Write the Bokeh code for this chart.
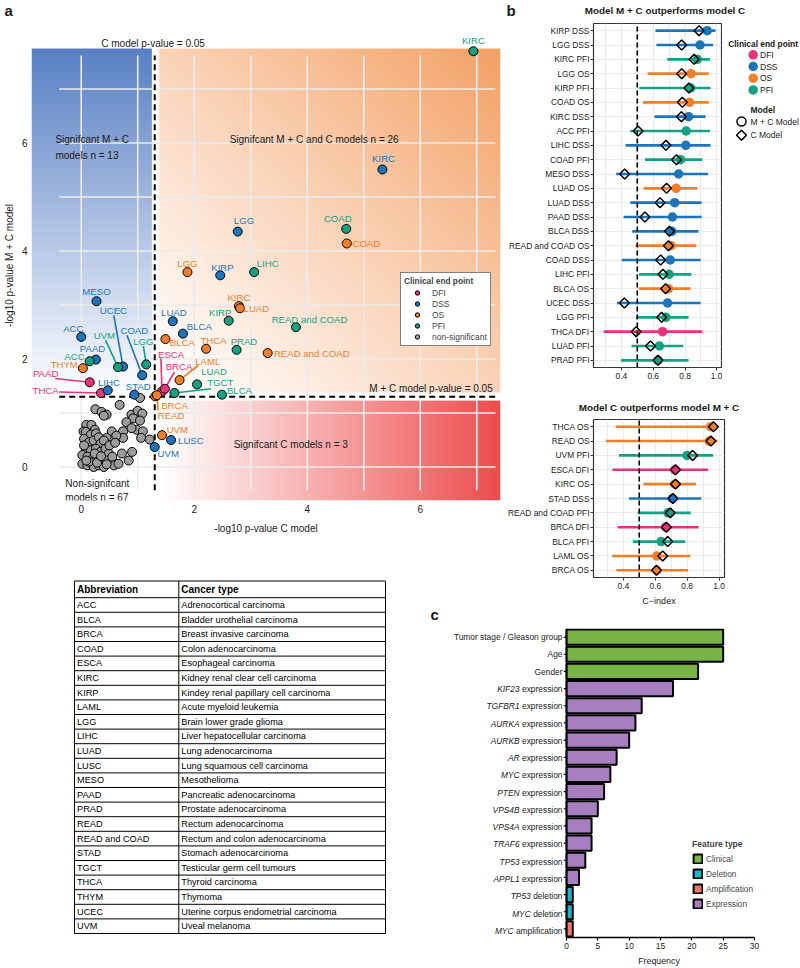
import numpy as np
from bokeh.plotting import figure
from bokeh.models import (ColumnDataSource, Label, LabelSet, Legend, LegendItem, FixedTicker,
                          FactorRange, Range1d, GridBox, PrintfTickFormatter, Title)
from bokeh.core.properties import value
from bokeh.embed import file_html
from bokeh.resources import INLINE

FONT = "Liberation Sans"
INK = "#1A1A1A"

# ---------------------------------------------------------------- panel a data
end_points = ["DFI", "DSS", "OS", "PFI"]
end_colors = ["#E8337B", "#1C74BA", "#F07E2B", "#15A084"]
ns_color = "#9C9C9C"

a_cancer = ["KIRC", "KIRC", "COAD", "COAD", "LGG", "LGG", "KIRP", "LIHC", "MESO", "UCEC",
            "ACC", "PAAD", "UVM", "COAD", "LGG", "ACC", "THYM", "PAAD", "THCA", "LIHC",
            "STAD", "LUAD", "BLCA", "BLCA", "THCA", "PRAD", "KIRC", "LUAD", "KIRP", "READ and COAD",
            "READ and COAD", "LAML", "LUAD", "TGCT", "BLCA", "ESCA", "BRCA", "BRCA", "READ", "UVM",
            "LUSC", "UVM"]
a_end = ["PFI", "DSS", "PFI", "OS", "DSS", "OS", "DSS", "PFI", "DSS", "DSS",
         "DSS", "DSS", "PFI", "DSS", "PFI", "PFI", "OS", "DFI", "DFI", "DSS",
         "DSS", "DSS", "DSS", "OS", "OS", "PFI", "OS", "OS", "PFI", "PFI",
         "OS", "OS", "PFI", "PFI", "PFI", "DFI", "DFI", "OS", "OS", "OS",
         "DSS", "DSS"]
a_logp_c = [6.94, 5.33, 4.69, 4.70, 2.77, 1.88, 2.46, 3.06, 0.27, 0.74,
            0.00, 0.26, 0.65, 1.08, 1.15, 0.15, 0.03, 0.15, 0.35, 0.47,
            0.94, 1.62, 1.80, 1.49, 2.21, 2.75, 2.79, 2.81, 2.61, 3.80,
            3.30, 1.74, 2.05, 1.65, 2.49, 1.43, 1.48, 1.31, 1.34, 1.43,
            1.59, 1.30]
a_logp_mc = [7.70, 5.51, 4.41, 4.14, 4.36, 3.61, 3.55, 3.61, 3.07, 1.86,
             2.41, 1.99, 1.85, 1.70, 1.90, 1.96, 1.83, 1.57, 1.37, 1.42,
             1.34, 2.70, 2.47, 2.37, 2.19, 2.17, 2.98, 2.94, 2.71, 2.59,
             2.11, 1.61, 1.53, 1.37, 1.34, 1.40, 1.45, 1.31, 1.33, 0.59,
             0.50, 0.37]

# non-significant models (grey)
ns_x = [1.04, 0.68, 0.25, 0.36, 0.45, 0.40, 0.89, 1.00, 1.08, 0.92, 0.80, 1.04, 0.09, 0.18,
        0.74, 0.98, 0.89, 1.09, 0.54, 0.24, 0.04, 0.45, 0.74, 1.06, 1.21, 0.62,
        0.08, 0.17, 0.26, 0.05, 0.14, 0.22, 0.31, 0.34, 0.40,
        0.08, 0.17, 0.26, 0.34, 0.43, 0.49,
        0.02, 0.11, 0.20, 0.28, 0.37, 0.46, 0.55,
        0.02, 0.11, 0.22, 0.31, 0.40, 0.58, 0.66,
        0.72, 0.84, 0.90, 0.05, 0.50, 0.60, 0.14, 0.28, 0.45, 0.24, 0.09, 0.35]
ns_y = [1.28, 1.15, 1.07, 1.02, 0.97, 0.95, 0.97, 1.04, 0.99, 0.90, 0.83, 0.86, 0.78, 0.78,
        0.66, 0.69, 0.72, 0.66, 0.66, 0.69, 0.66, 0.54, 0.54, 0.54, 0.51, 0.58,
        0.65, 0.60, 0.62, 0.52, 0.46, 0.49, 0.55, 0.43, 0.49,
        0.34, 0.31, 0.34, 0.28, 0.34, 0.25,
        0.22, 0.19, 0.15, 0.17, 0.12, 0.12, 0.19,
        0.06, 0.03, 0.00, 0.03, 0.00, 0.03, 0.06,
        0.25, 0.12, 0.28, 0.40, 0.40, 0.45, 0.10, 0.08, 0.05, 0.25, 0.12, 0.20]

# label layout for panel a (text anchor positions, in axis units)
a_lab_x = [6.94, 5.35, 4.54, 4.80, 2.88, 1.88, 2.50, 3.30, 0.27, 0.57,
           -0.14, 0.20, 0.41, 0.94, 1.10, -0.12, -0.30, -0.63, -0.63, 0.49,
           1.01, 1.64, 2.09, 1.79, 2.34, 2.88, 2.79, 3.10, 2.46, 4.04,
           3.41, 2.24, 2.35, 2.46, 2.80, 1.59, 1.73, 1.65, 1.59, 1.70,
           1.94, 1.54]
a_lab_y = [7.90, 5.71, 4.61, 4.14, 4.57, 3.77, 3.70, 3.76, 3.25, 2.89,
           2.56, 2.19, 2.44, 2.53, 2.33, 2.04, 1.90, 1.73, 1.42, 1.57,
           1.49, 2.86, 2.61, 2.31, 2.35, 2.32, 3.14, 2.94, 2.87, 2.73,
           2.11, 1.96, 1.76, 1.57, 1.42, 2.09, 1.86, 1.14, 0.96, 0.69,
           0.49, 0.25]
a_lab_left = [3, 30]
a_lead = {9: (0.576, 2.81), 12: (0.43, 2.35), 13: (0.81, 2.44), 14: (1.10, 2.24),
          17: (-0.46, 1.64), 18: (-0.39, 1.39), 31: (2.07, 1.88), 33: (2.30, 1.45),
          35: (1.41, 2.01), 36: (1.65, 1.76), 37: (1.38, 1.24), 38: (1.36, 1.05)}

# ---------------------------------------------------------------- panel b data
bt_cancer = ["KIRP", "LGG", "KIRC", "LGG", "KIRP", "COAD", "KIRC", "ACC", "LIHC", "COAD", "MESO", "LUAD",
             "LUAD", "PAAD", "BLCA", "READ and COAD", "COAD", "LIHC", "BLCA", "UCEC", "LGG", "THCA", "LUAD", "PRAD"]
bt_end = ["DSS", "DSS", "PFI", "OS", "PFI", "OS", "DSS", "PFI", "DSS", "PFI", "DSS", "OS",
          "DSS", "DSS", "DSS", "OS", "DSS", "PFI", "OS", "DSS", "PFI", "DFI", "PFI", "PFI"]
bt_low = [0.614, 0.620, 0.688, 0.565, 0.513, 0.536, 0.608, 0.456, 0.427, 0.548, 0.367, 0.540,
          0.456, 0.414, 0.468, 0.488, 0.402, 0.511, 0.511, 0.373, 0.493, 0.289, 0.464, 0.398]
bt_high = [0.991, 0.976, 0.956, 0.949, 0.960, 0.949, 0.929, 0.956, 0.960, 0.908, 0.945, 0.877,
           0.904, 0.904, 0.884, 0.871, 0.898, 0.840, 0.834, 0.898, 0.822, 0.908, 0.789, 0.822]
bt_mc = [0.939, 0.894, 0.877, 0.838, 0.836, 0.828, 0.822, 0.807, 0.805, 0.772, 0.760, 0.744,
         0.735, 0.721, 0.717, 0.713, 0.707, 0.700, 0.696, 0.690, 0.680, 0.659, 0.639, 0.630]
bt_c = [0.888, 0.779, 0.857, 0.779, 0.824, 0.783, 0.777, 0.505, 0.680, 0.746, 0.421, 0.684,
        0.643, 0.548, 0.702, 0.696, 0.647, 0.661, 0.678, 0.419, 0.653, 0.493, 0.583, 0.630]

bb_cancer = ["THCA", "READ", "UVM", "ESCA", "KIRC", "STAD", "READ and COAD", "BRCA", "BLCA", "LAML", "BRCA"]
bb_end = ["OS", "OS", "PFI", "DFI", "OS", "DSS", "PFI", "DFI", "PFI", "OS", "OS"]
bb_low = [0.353, 0.291, 0.373, 0.332, 0.526, 0.435, 0.491, 0.365, 0.460, 0.330, 0.357]
bb_high = [0.995, 0.991, 0.962, 0.931, 0.855, 0.888, 0.822, 0.871, 0.787, 0.820, 0.806]
bb_mc = [0.947, 0.937, 0.799, 0.723, 0.723, 0.707, 0.680, 0.665, 0.637, 0.610, 0.610]
bb_c = [0.964, 0.949, 0.834, 0.727, 0.727, 0.711, 0.694, 0.670, 0.678, 0.647, 0.608]

# ---------------------------------------------------------------- panel c data
c_feature = ["Tumor stage / Gleason group", "Age", "Gender", "KIF23 expression", "TGFBR1 expression",
             "AURKA expression", "AURKB expression", "AR expression", "MYC expression", "PTEN expression",
             "VPS4B expression", "VPS4A expression", "TRAF6 expression", "TP53 expression",
             "APPL1 expression", "TP53 deletion", "MYC deletion", "MYC amplification"]
c_freq = [25, 25, 21, 17, 12, 11, 10, 8, 7, 6, 5, 4, 4, 3, 2, 1, 1, 1]
c_type = ["Clinical"] * 3 + ["Expression"] * 12 + ["Deletion", "Deletion", "Amplification"]
type_names = ["Clinical", "Deletion", "Amplification", "Expression"]
type_colors = ["#79B546", "#1DB5C1", "#F3766E", "#A77FC1"]

# ---------------------------------------------------------------- table data
tbl_abbr = ["ACC", "BLCA", "BRCA", "COAD", "ESCA", "KIRC", "KIRP", "LAML", "LGG", "LIHC", "LUAD", "LUSC",
            "MESO", "PAAD", "PRAD", "READ", "READ and COAD", "STAD", "TGCT", "THCA", "THYM", "UCEC", "UVM"]
tbl_name = ["Adrenocortical carcinoma", "Bladder urothelial carcinoma", "Breast invasive carcinoma",
            "Colon adenocarcinoma", "Esophageal carcinoma", "Kidney renal clear cell carcinoma",
            "Kindey renal papillary cell carcinoma", "Acute myeloid leukemia", "Brain lower grade glioma",
            "Liver hepatocellular carcinoma", "Lung adenocarcinoma", "Lung squamous cell carcinoma",
            "Mesothelioma", "Pancreatic adenocarcinoma", "Prostate adenocarcinoma", "Rectum adenocarcinoma",
            "Rectum and colon adenocarcinoma", "Stomach adenocarcinoma", "Testicular germ cell tumours",
            "Thyroid carcinoma", "Thymoma", "Uterine corpus endometrial carcinoma", "Uveal melanoma"]

END_COLOR = dict(zip(end_points, end_colors))
SIG = -np.log10(0.05)


def base_fig(**kw):
    p = figure(output_backend="svg", toolbar_location=None, title=None, **kw)
    p.background_fill_color = "white"
    p.border_fill_color = "white"
    if "frame_align" in p.properties():
        p.frame_align = False
    return p


def blank_fig(w, h):
    p = base_fig(width=w, height=h, x_range=Range1d(0, w), y_range=Range1d(h, 0),
                 min_border=0, x_axis_location=None, y_axis_location=None)
    p.outline_line_color = None
    p.xgrid.visible = False
    p.ygrid.visible = False
    return p


def style_axis(axis, size="8.4px"):
    axis.major_label_text_font = FONT
    axis.major_label_text_font_size = size
    axis.major_label_text_color = INK
    axis.axis_label_text_font = FONT
    axis.axis_label_text_font_style = "normal"
    axis.axis_label_text_color = INK


def add_label(p, x, y, txt, align="left", size="10px", bold=False, color=INK, baseline="middle"):
    p.add_layout(Label(x=x, y=y, text=txt, text_align=align, text_baseline=baseline,
                       text_font=FONT, text_font_size=size, text_color=color,
                       text_font_style="bold" if bold else "normal"))


def add_title(p, txt, align, offset, size, standoff):
    p.add_layout(Title(text=txt, align=align, offset=offset, text_font=FONT, text_font_size=size,
                       text_font_style="bold", text_color=INK, standoff=standoff), "above")


# ================================================================ panel a
# strip holding the panel letter
pta = blank_fig(505, 22)
add_label(pta, 4, 10, "a", size="15px", bold=True)

A_L, A_T, A_W, A_H = 29, 30, 471, 470     # frame in page pixels
A_XR = (-0.88, 7.42)
A_YR = (-0.62, 8.084)


def ax(px):
    return A_XR[0] + (px - A_L) * (A_XR[1] - A_XR[0]) / A_W


def ay(py):
    return A_YR[1] - (py - A_T) * (A_YR[1] - A_YR[0]) / A_H


pa = base_fig(width=505, height=543, x_range=Range1d(*A_XR), y_range=Range1d(*A_YR),
              min_border_left=A_L, min_border_right=5, min_border_top=8, min_border_bottom=65)
pa.outline_line_color = None
pa.xgrid.visible = False
pa.ygrid.visible = False


def add_gradient(p, x0, x1, y0, y1, rgb, mode):
    n = 300
    ny, nx = {"v": (n, 2), "h": (2, n), "d": (n, n)}[mode]
    u = np.linspace(0, 1, nx)[None, :]
    v = np.linspace(0, 1, ny)[:, None]
    if mode == "v":
        t = np.broadcast_to(v, (ny, nx))
    elif mode == "h":
        t = np.broadcast_to(u, (ny, nx))
    else:
        t = ((u + v) / 2.0) ** 1.1
    img = np.empty((ny, nx), dtype=np.uint32)
    view = img.view(dtype=np.uint8).reshape((ny, nx, 4))
    for k in range(3):
        view[:, :, k] = np.round(255 + (rgb[k] - 255) * t).astype(np.uint8)
    view[:, :, 3] = 255
    p.image_rgba(image=[img], x=x0, y=y0, dw=x1 - x0, dh=y1 - y0, level="image")


add_gradient(pa, -0.88, 1.25, SIG, 7.75, (88, 128, 196), "v")
add_gradient(pa, 1.38, 7.42, 1.38, 7.75, (243, 160, 100), "d")
add_gradient(pa, 1.38, 7.42, -0.62, 1.23, (236, 76, 76), "h")

grid_vals = list(range(0, 8))
gkw = dict(line_color="#EBEBEB", line_width=1.6, level="underlay")
pa.segment(x0=grid_vals, y0=[-0.43] * 8, x1=grid_vals, y1=[7.62] * 8, **gkw)
pa.segment(x0=[-0.39] * 8, y0=grid_vals, x1=[7.33] * 8, y1=grid_vals, **gkw)

dkw = dict(line_color="black", line_width=2, line_dash="6 4")
pa.segment(x0=[SIG], y0=[-0.43], x1=[SIG], y1=[7.62], **dkw)
pa.segment(x0=[-0.39], y0=[SIG], x1=[7.33], y1=[SIG], **dkw)

lead_idx = sorted(a_lead)
pa.segment(x0=[a_lead[i][0] for i in lead_idx], y0=[a_lead[i][1] for i in lead_idx],
           x1=[a_logp_c[i] for i in lead_idx], y1=[a_logp_mc[i] for i in lead_idx],
           line_color=[END_COLOR[a_end[i]] for i in lead_idx], line_width=1.6)

r_ns = pa.scatter(ns_x, ns_y, size=9, fill_color=ns_color, line_color="black", line_width=1)
r_end = {}
for e in end_points:
    idx = [i for i, v in enumerate(a_end) if v == e]
    r_end[e] = pa.scatter([a_logp_c[i] for i in idx], [a_logp_mc[i] for i in idx], size=9,
                          fill_color=END_COLOR[e], line_color="black", line_width=1)

for align in ("center", "left"):
    idx = [i for i in range(len(a_cancer)) if (i in a_lab_left) == (align == "left")]
    src = ColumnDataSource(dict(x=[a_lab_x[i] for i in idx], y=[a_lab_y[i] for i in idx],
                                t=[a_cancer[i] for i in idx], c=[END_COLOR[a_end[i]] for i in idx]))
    pa.add_layout(LabelSet(x="x", y="y", text="t", source=src, text_color="c", text_align=align,
                           text_baseline="middle", text_font=value(FONT), text_font_size="9.6px"))

leg_a = Legend(items=[LegendItem(label=e, renderers=[r_end[e]]) for e in end_points] +
               [LegendItem(label="non-significant", renderers=[r_ns])],
               location=(369, 154), title="Clinical end point", title_text_font_style="bold",
               title_text_font_size="8.3px", title_text_font=FONT, label_text_font=FONT,
               label_text_font_size="8.5px", glyph_width=26, glyph_height=11, label_height=11,
               spacing=0, padding=3, margin=0, border_line_color="black", border_line_width=1.2,
               background_fill_color="white", background_fill_alpha=1.0, title_standoff=1,
               label_standoff=2)
pa.add_layout(leg_a)

add_label(pa, ax(152.5), ay(43), "C model  p-value = 0.05", "center")
add_label(pa, ax(53), ay(139), "Signifcant M + C")
add_label(pa, ax(53), ay(155), "models n = 13")
add_label(pa, ax(228), ay(139), "Signifcant M + C and C models n = 26")
add_label(pa, ax(495), ay(388), "M + C model  p-value = 0.05", "right")
add_label(pa, ax(232), ay(444), "Signifcant C models n = 3")
add_label(pa, ax(63), ay(483), "Non-signifcant")
add_label(pa, ax(63), ay(497), "models n = 67")

pa.xaxis.ticker = FixedTicker(ticks=[0, 2, 4, 6])
pa.yaxis.ticker = FixedTicker(ticks=[0, 2, 4, 6])
pa.xaxis.axis_label = "-log10 p-value C model"
pa.yaxis.axis_label = "-log10 p-value M + C model"
for axis in (pa.xaxis, pa.yaxis):
    style_axis(axis, "10px")
    axis.axis_label_text_font_size = "10px"
    axis.axis_line_color = None
    axis.major_tick_line_color = None
    axis.minor_tick_line_color = None
    axis.major_tick_out = 0
    axis.major_tick_in = 0
    axis.minor_tick_out = 0
    axis.major_label_standoff = 4
pa.xaxis.axis_label_standoff = 7
pa.yaxis.axis_label_standoff = 4


# ================================================================ panel b
def forest(p, cancer, end, low, high, mc, c):
    names = [f"{a} {b}" for a, b in zip(cancer, end)]
    n = len(names)
    p.segment(x0=low, y0=names, x1=high, y1=names,
              line_color=[END_COLOR[e] for e in end], line_width=2.6)
    p.segment(x0=[0.5], y0=[0], x1=[0.5], y1=[n], line_color="black", line_width=1.6, line_dash="5 3")
    for e in end_points:
        idx = [i for i, v in enumerate(end) if v == e]
        if idx:
            p.scatter([mc[i] for i in idx], [names[i] for i in idx], size=9.5,
                      fill_color=END_COLOR[e], line_color=None)
    p.scatter(c, names, marker="square", angle=np.pi / 4, size=7, fill_color=None,
              line_color="black", line_width=1.5)
    p.outline_line_color = "#333333"
    p.outline_line_width = 1.2
    for g in (p.xgrid, p.ygrid):
        g.grid_line_color = "#EBEBEB"
        g.grid_line_width = 1.2
    p.xgrid.minor_grid_line_color = "#EBEBEB"
    p.xgrid.minor_grid_line_width = 1.2
    p.xaxis.ticker = FixedTicker(ticks=[0.4, 0.6, 0.8, 1.0], minor_ticks=[0.3, 0.5, 0.7, 0.9])
    p.xaxis.formatter = PrintfTickFormatter(format="%.1f")
    for axis in (p.xaxis, p.yaxis):
        style_axis(axis, "8.4px")
        axis.axis_line_color = None
        axis.major_tick_out = 3
        axis.major_tick_in = 0
        axis.major_tick_line_color = "#333333"
        axis.minor_tick_line_color = None
        axis.minor_tick_out = 0
        axis.major_label_standoff = 1
    p.xaxis.major_label_standoff = 2
    return names


# title strip above panel b (top)
ptb = blank_fig(295, 22)
add_label(ptb, 1, 10, "b", size="15px", bold=True)
add_label(ptb, 159.5, 9.5, "Model M + C outperforms model C", "center", size="9.9px", bold=True)

N1 = len(bt_cancer)
B1_L, B1_W = 86, 130
B1_X0 = 0.225
B1_SX = 161.7
bt_names = [f"{a} {b}" for a, b in zip(bt_cancer, bt_end)]
pb1 = base_fig(width=217, height=368, x_range=Range1d(B1_X0, B1_X0 + B1_W / B1_SX),
               y_range=FactorRange(factors=bt_names[::-1]),
               min_border_left=B1_L, min_border_right=1, min_border_top=1, min_border_bottom=23)
forest(pb1, bt_cancer, bt_end, bt_low, bt_high, bt_mc, bt_c)

# legend column for panel b (top)
pbl = blank_fig(78, 368)
LY0 = 22
leg_y = [54.3 - LY0 + 11.7 * i for i in range(len(end_points))]
pbl.scatter([30.7] * len(end_points), leg_y, size=9.5, fill_color=end_colors, line_color=None)
pbl.text([37.5] * len(end_points), leg_y, text=end_points, text_baseline="middle",
         text_font=value(FONT), text_font_size="8.5px", text_color=INK)
add_label(pbl, 5.7, 43.7 - LY0, "Clinical end point", size="8.4px", bold=True)
add_label(pbl, 28, 109 - LY0, "Model", size="8.5px", bold=True)
pbl.scatter([19], [121 - LY0], size=9, fill_color=None, line_color="black", line_width=1.5)
pbl.scatter([19], [134.7 - LY0], marker="square", angle=np.pi / 4, size=7, fill_color=None,
            line_color="black", line_width=1.5)
pbl.text([28, 28], [121 - LY0, 134.7 - LY0], text=["M + C Model", "C Model"], text_baseline="middle",
         text_font=value(FONT), text_font_size="8.5px", text_color=INK)

N2 = len(bb_cancer)
B2_L, B2_T, B2_W, B2_H = 87, 29, 132, 158
B2_X0 = 0.2137
B2_SX = 161.0
bb_names = [f"{a} {b}" for a, b in zip(bb_cancer, bb_end)]
pb2 = base_fig(width=295, height=220, x_range=Range1d(B2_X0, B2_X0 + B2_W / B2_SX),
               y_range=FactorRange(factors=bb_names[::-1]),
               min_border_left=B2_L, min_border_right=295 - B2_L - B2_W, min_border_top=B2_T,
               min_border_bottom=220 - B2_T - B2_H)
forest(pb2, bb_cancer, bb_end, bb_low, bb_high, bb_mc, bb_c)
pb2.xaxis.axis_label = "C\u2212index"
pb2.xaxis.axis_label_text_font_size = "9px"
pb2.xaxis.axis_label_standoff = 4
add_title(pb2, "Model C outperforms model M + C", "center", 9, "9.9px", 13)

# ================================================================ panel c
ARIAL = {" ": 278, "a": 556, "c": 500, "d": 556, "e": 556, "f": 278, "i": 222, "l": 222, "m": 833,
         "n": 556, "o": 556, "p": 556, "r": 333, "s": 500, "t": 278, "x": 500}


def text_w(s, size):
    return sum(ARIAL.get(ch, 556) for ch in s) * size / 1000.0


C_FS = 8.4
C_TOP, C_BOT = 18, 29
PC_W, PC_FRAME_W, PC_RIGHT = 237, 191, 46
C_SX = (PC_FRAME_W - 3) / 30.0     # pixels per frequency unit
C_X0 = -3.0 / C_SX                 # 3 px left of zero: room for the y tick marks
c_range = FactorRange(factors=c_feature[::-1])
pc = base_fig(width=PC_W, height=358, x_range=Range1d(C_X0, 30), y_range=c_range,
              min_border_left=0, min_border_right=PC_RIGHT, min_border_top=C_TOP,
              min_border_bottom=C_BOT, y_axis_location=None)
pc.outline_line_color = None
pc.xgrid.visible = False
pc.ygrid.visible = False
r_type = {}
for t, col in zip(type_names, type_colors):
    idx = [i for i, v in enumerate(c_type) if v == t]
    r_type[t] = pc.hbar(y=[c_feature[i] for i in idx], right=[c_freq[i] for i in idx], left=0,
                        height=0.88, fill_color=col, line_color="black", line_width=2)
# y axis line and tick marks at frequency 0
pc.segment(x0=[0], y0=[0], x1=[0], y1=[len(c_feature)], line_color="black", line_width=1.5)
pc.segment(x0=[C_X0] * len(c_feature), y0=c_feature, x1=[0] * len(c_feature), y1=c_feature,
           line_color="black", line_width=1.2)

pc.xaxis.ticker = FixedTicker(ticks=[0, 5, 10, 15, 20, 25, 30])
pc.xaxis.bounds = (0, 30)
pc.xaxis.axis_label = "Frequency"
style_axis(pc.xaxis, "8.4px")
pc.xaxis.axis_label_text_font_size = "8.8px"
pc.xaxis.axis_line_color = "black"
pc.xaxis.axis_line_width = 1.5
pc.xaxis.major_tick_out = 3
pc.xaxis.major_tick_in = 0
pc.xaxis.major_tick_line_color = "black"
pc.xaxis.major_tick_line_width = 1.2
pc.xaxis.minor_tick_line_color = None
pc.xaxis.minor_tick_out = 0
pc.xaxis.major_label_standoff = 2
pc.xaxis.axis_label_standoff = 4

leg_c = Legend(items=[LegendItem(label=t, renderers=[r_type[t]]) for t in type_names],
               location=(129, 28), title="Feature type", title_text_font_style="bold",
               title_text_font_size="8.5px", title_text_font=FONT, label_text_font=FONT,
               label_text_font_size="8.3px", glyph_width=11, glyph_height=11, label_height=11,
               spacing=4, padding=0, margin=0, border_line_color=None, background_fill_alpha=0,
               title_standoff=4, label_standoff=3)
pc.add_layout(leg_c)

# category labels of panel c (share the bar chart's factor range)
CL_W = 113
pcl = base_fig(width=CL_W, height=358, x_range=Range1d(0, CL_W), y_range=c_range,
               min_border_left=0, min_border_right=0, min_border_top=C_TOP, min_border_bottom=C_BOT,
               x_axis_location=None, y_axis_location=None)
pcl.outline_line_color = None
pcl.xgrid.visible = False
pcl.ygrid.visible = False
LAB_R = CL_W - 1
plain_txt, gene_txt, gene_y, gene_x = [], [], [], []
for f, t in zip(c_feature, c_type):
    if t == "Clinical":
        plain_txt.append(f)
    else:
        gene, suffix = f.split(" ", 1)
        plain_txt.append(suffix)
        gene_txt.append(gene)
        gene_y.append(f)
        gene_x.append(LAB_R - text_w(" " + suffix, C_FS))
pcl.text([LAB_R] * len(c_feature), c_feature, text=plain_txt, text_align="right",
         text_baseline="middle", text_font=value(FONT), text_font_size=f"{C_FS}px", text_color=INK)
pcl.text(gene_x, gene_y, text=gene_txt, text_align="right", text_baseline="middle",
         text_font=value(FONT), text_font_size=f"{C_FS}px", text_font_style="italic", text_color=INK)

# ================================================================ table (+ letter c)
ptab = blank_fig(450, 403)
T_L, T_D, T_R = 74, 178.3, 385
T_TOP, T_HDR, T_ROW = 15.5, 16.7, 14.6
n_rows = len(tbl_abbr)
hy = [T_TOP, T_TOP + T_HDR] + [T_TOP + T_HDR + T_ROW * (k + 1) for k in range(n_rows)]
ptab.segment(x0=[T_L] * len(hy), y0=hy, x1=[T_R] * len(hy), y1=hy, line_color="black", line_width=1)
ptab.segment(x0=[T_L, T_D, T_R], y0=[T_TOP] * 3, x1=[T_L, T_D, T_R], y1=[hy[-1]] * 3,
             line_color="black", line_width=1)
row_c = [T_TOP + T_HDR + T_ROW * (k + 0.5) for k in range(n_rows)]
ptab.text([T_L + 2.5] * n_rows, row_c, text=tbl_abbr, text_baseline="middle",
          text_font=value(FONT), text_font_size="9.2px", text_color="black")
ptab.text([T_D + 2.5] * n_rows, row_c, text=tbl_name, text_baseline="middle",
          text_font=value(FONT), text_font_size="9.2px", text_color="black")
ptab.text([T_L + 2.5, T_D + 2.5], [T_TOP + T_HDR / 2] * 2, text=["Abbreviation", "Cancer type"],
          text_baseline="middle", text_font=value(FONT), text_font_size="10px",
          text_font_style="bold", text_color="black")
add_label(ptab, 430, 49, "c", size="15px", bold=True)

# ================================================================ layout
# columns: 0..450 | 450..505 | 505..563 | 563..722 | 722..800
# rows:    0..22  | 22..390  | 390..565 | 565..610 | 610..968
layout = GridBox(children=[(pta, 0, 0, 1, 2), (pa, 1, 0, 2, 2),
                           (ptb, 0, 2, 1, 3), (pb1, 1, 2, 1, 2), (pbl, 1, 4),
                           (pb2, 2, 2, 2, 3), (ptab, 3, 0, 2, 1),
                           (pcl, 4, 1, 1, 2), (pc, 4, 3, 1, 2)],
                 rows=["22px", "368px", "175px", "45px", "358px"],
                 cols=["450px", "55px", "58px", "159px", "78px"], spacing=0)

open("out.html", "w").write(file_html(layout, INLINE, title="Figure"))
